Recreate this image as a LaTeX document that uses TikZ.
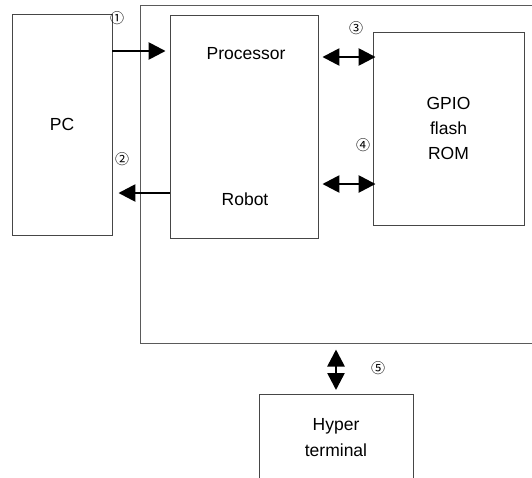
\documentclass[tikz,border=0pt]{standalone}
\usepackage{fontspec}
\setmainfont{Liberation Sans}
\newfontfamily\cjk{Noto Sans CJK KR}
\usepackage{xcolor}
\usepackage{tikz}
\usetikzlibrary{positioning,arrows.meta,calc}
\definecolor{boxline}{RGB}{70,70,70}
\definecolor{frameline}{RGB}{90,90,90}
\tikzset{
  box/.style={draw=boxline, line width=0.9pt, inner sep=0pt,
              font=\fontsize{17.5}{25}\selectfont, align=center},
  frame/.style={draw=frameline, line width=1pt},
  txt/.style={font=\fontsize{17.5}{26}\selectfont, align=center, inner sep=0pt},
  num/.style={font=\cjk\fontsize{14}{14}\selectfont, inner sep=0pt},
  link/.style={-{Triangle[length=17pt, width=17pt]}, line width=2.6pt},
  dlink/.style={{Triangle[length=17pt, width=17pt]}-{Triangle[length=17pt, width=17pt]}, line width=2.6pt}
}

\begin{document}
\begin{tikzpicture}[x=1pt, y=-1pt]
\useasboundingbox (0,0) rectangle (532,477);
\clip (0,0) rectangle (532,477);
% blocks
\node (frame) [frame, minimum width=460pt, minimum height=338pt] at (370,174) {};
\node (pc) [box, minimum width=100pt, minimum height=221pt] at (62,124.5) {PC};
\node (cpu) [box, minimum width=148pt, minimum height=223pt] at (244,126.5) {};
\node (proc) [txt] at (246,54) {Processor};
\node (robot) [txt] at (245,199) {Robot};
\node (gpio) [box, minimum width=151pt, minimum height=193pt] at (448.5,128.5) {GPIO\\flash\\ROM};
\node (term) [box, minimum width=154pt, minimum height=120pt, anchor=north] at (336,394) {};
\node (termtxt) [txt] at (336,438) {Hyper\\terminal};
% links
\draw[link] (pc.east |- 0,51) -- ([xshift=-4pt]cpu.west |- 0,51);
\draw[link] (cpu.west |- 0,193) -- ([xshift=6pt]pc.east |- 0,193);
\draw[dlink, shorten <=4pt, shorten >=-3pt] (cpu.east |- 0,57) -- (gpio.west |- 0,57);
\draw[dlink, shorten <=4pt, shorten >=-3pt] (cpu.east |- 0,184) -- (gpio.west |- 0,184);
\draw[dlink, shorten <=6pt, shorten >=4pt] (term.north |- frame.south) -- (term.north);
% numbers
\node (n1) [num] at (117,18) {①};
\node (n2) [num] at (122,159) {②};
\node (n3) [num] at (356,28) {③};
\node (n4) [num] at (363,145) {④};
\node (n5) [num] at (378,368) {⑤};
\end{tikzpicture}
\end{document}
